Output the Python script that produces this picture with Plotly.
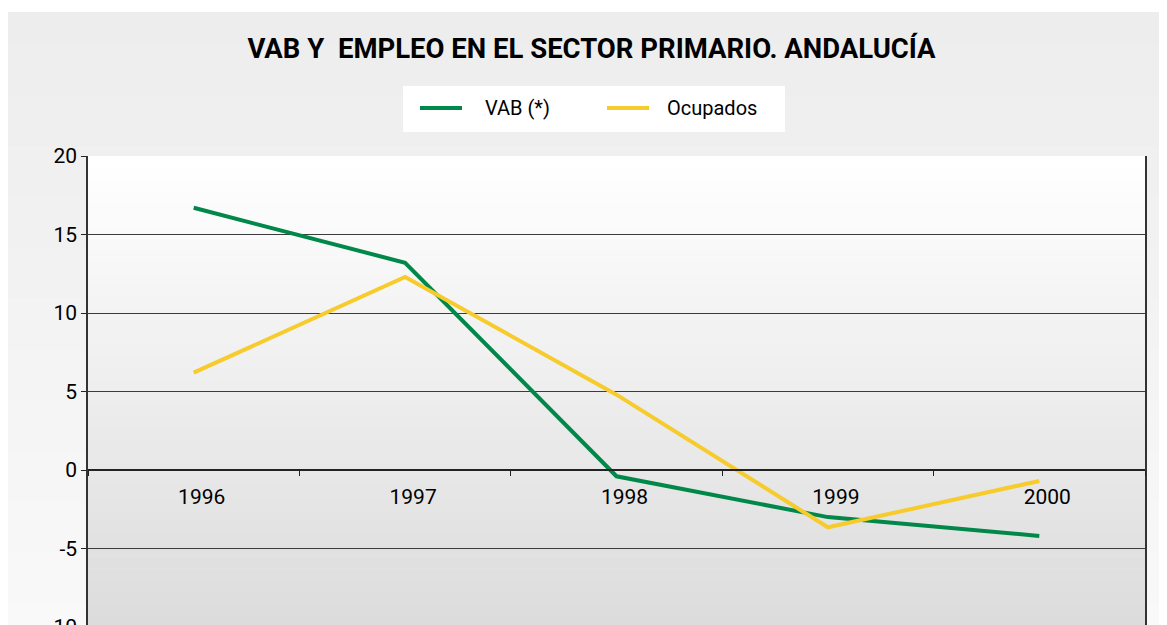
import plotly.graph_objects as go

years = ["1996", "1997", "1998", "1999", "2000"]
vab = [16.7, 13.2, -0.4, -3.0, -4.2]
ocupados = [6.2, 12.3, 4.8, -3.65, -0.7]
series_names = ["VAB (*)", "Ocupados"]
series_colors = ["#00874A", "#F6CB2B"]
y_ticks = [-10, -5, 0, 5, 10, 15, 20]
y_tick_text = [str(v) for v in y_ticks]

FONT = "Roboto, Liberation Sans, sans-serif"
W, H = 1167, 680
L, R, T = 80, 30, 148
PLOT_BOTTOM = 619
B = H - PLOT_BOTTOM
PW = W - L - R
PH = PLOT_BOTTOM - T


def px_x(x):
    return (x - L) / PW


def px_y(y):
    return (PLOT_BOTTOM - y) / PH


def mix(c1, c2, t):
    return "rgb(%d,%d,%d)" % tuple(round(a + (b - a) * t) for a, b in zip(c1, c2))


shapes = []
n = 40
top, bot = 4, H
for i in range(n):
    y0 = top + (bot - top) * i / n
    y1 = top + (bot - top) * (i + 1) / n + 0.5
    shapes.append(dict(type="rect", xref="paper", yref="paper", layer="below",
                       x0=px_x(0), x1=px_x(W), y0=px_y(y1), y1=px_y(y0),
                       line=dict(width=0),
                       fillcolor=mix((237, 237, 237), (250, 250, 250), i / (n - 1))))
for i in range(n):
    y0 = T + PH * i / n
    y1 = T + PH * (i + 1) / n + 0.5
    shapes.append(dict(type="rect", xref="paper", yref="paper", layer="below",
                       x0=0, x1=1, y0=max(0, px_y(y1)), y1=px_y(y0),
                       line=dict(width=0),
                       fillcolor=mix((255, 255, 255), (220, 220, 220), i / (n - 1))))

# legend: white box, line samples and labels
shapes.append(dict(type="rect", xref="paper", yref="paper", layer="below",
                   x0=px_x(395), x1=px_x(777), y0=px_y(124), y1=px_y(78),
                   line=dict(width=0), fillcolor="white"))
legend_sample_x = [412, 599]
legend_text_x = [475, 657]
legend_y = 100
annotations = []
for name, color, sx, tx in zip(series_names, series_colors, legend_sample_x, legend_text_x):
    shapes.append(dict(type="line", xref="paper", yref="paper", layer="above",
                       x0=px_x(sx), x1=px_x(sx + 42), y0=px_y(legend_y), y1=px_y(legend_y),
                       line=dict(color=color, width=4)))
    annotations.append(dict(text=name, xref="paper", yref="paper",
                            x=px_x(tx), y=px_y(legend_y), xanchor="left", yanchor="middle",
                            showarrow=False,
                            font=dict(family=FONT, size=20, color="black")))

fig = go.Figure()
for name, color, vals in zip(series_names, series_colors, [vab, ocupados]):
    fig.add_trace(go.Scatter(x=years, y=vals, name=name, mode="lines",
                             line=dict(color=color, width=4)))

fig.update_layout(
    width=W, height=H,
    margin=dict(l=L, r=R, t=T, b=B, autoexpand=False),
    paper_bgcolor="white",
    plot_bgcolor="rgba(0,0,0,0)",
    shapes=shapes,
    annotations=annotations,
    font=dict(family=FONT, size=21, color="black"),
    title=dict(text="<b>VAB Y  EMPLEO EN EL SECTOR PRIMARIO. ANDALUCÍA</b>",
               x=0.5, xref="container", xanchor="center",
               y=1 - 40 / H, yref="container", yanchor="middle",
               font=dict(family=FONT, size=27.5, color="black")),
    showlegend=False,
    xaxis=dict(type="category", range=[-0.5, 4.5], anchor="free", position=1 / 3,
               showline=True, linecolor="#222", linewidth=1.5,
               ticks="outside", tickson="boundaries", ticklen=5,
               tickcolor="#222", tickwidth=1.2,
               ticklabelstandoff=8, ticklabelshift=8,
               showgrid=False, zeroline=False,
               tickfont=dict(family=FONT, size=21, color="black")),
    yaxis=dict(range=[-10, 20], tickvals=y_ticks, ticktext=y_tick_text,
               showline=True, linecolor="#333", linewidth=1.5, mirror=True,
               ticks="outside", ticklen=5, tickcolor="#222",
               showgrid=True, gridcolor="#3c3c3c", gridwidth=1.3,
               zeroline=False,
               tickfont=dict(family=FONT, size=21, color="black")),
)

fig.write_html("out.html")
